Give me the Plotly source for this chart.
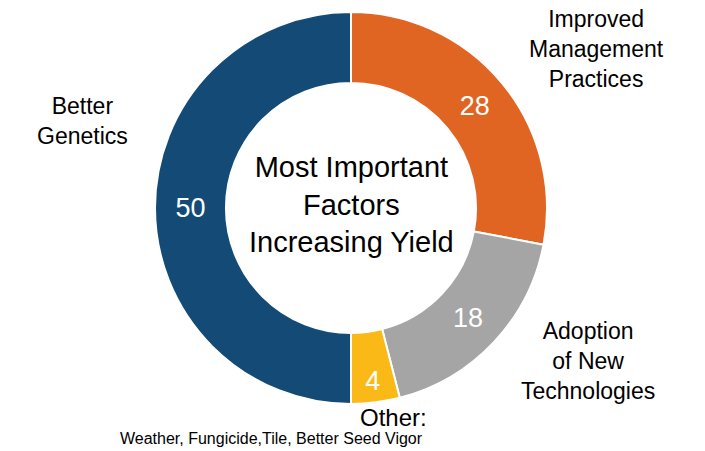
import plotly.graph_objects as go

categories = ["Improved Management Practices", "Adoption of New Technologies", "Other", "Better Genetics"]
values = [28, 18, 4, 50]
colors = ["#E06522", "#A5A5A5", "#FBB918", "#134B76"]

W, H = 705, 451
FONT = "Arial, Liberation Sans, sans-serif"

def px(x, y):
    return x / W, 1 - y / H

fig = go.Figure(go.Pie(
    labels=categories,
    values=values,
    sort=False,
    direction="clockwise",
    rotation=0,
    hole=0.638,
    marker=dict(colors=colors, line=dict(color="white", width=2)),
    textinfo="value",
    textposition="inside",
    insidetextorientation="horizontal",
    textfont=dict(family=FONT, size=27, color="white"),
    showlegend=False,
    hoverinfo="label+value",
    domain=dict(x=[155 / W, 547 / W], y=[1 - 404 / H, 1 - 12 / H]),
))

labels_out = [
    ("Improved<br>Management<br>Practices", 596, 49, 23),
    ("Better<br>Genetics", 82, 121, 23),
    ("Adoption<br>of New<br>Technologies", 588, 361, 23),
    ("Other:", 393, 417, 24),
    ("Weather, Fungicide,Tile, Better Seed Vigor", 271, 438, 16),
    ("Most Important<br>Factors<br>Increasing Yield", 351, 204, 29),
]

annotations = []
for text, x, y, size in labels_out:
    ax, ay = px(x, y)
    annotations.append(dict(
        text=text, x=ax, y=ay, xref="paper", yref="paper",
        xanchor="center", yanchor="middle", showarrow=False,
        align="center", font=dict(family=FONT, size=size, color="black"),
    ))

fig.update_layout(
    width=W, height=H,
    margin=dict(l=0, r=0, t=0, b=0),
    paper_bgcolor="white",
    plot_bgcolor="white",
    annotations=annotations,
)

fig.write_html("out.html", config={"displayModeBar": False},
               post_script="document.body.style.margin='0';")
